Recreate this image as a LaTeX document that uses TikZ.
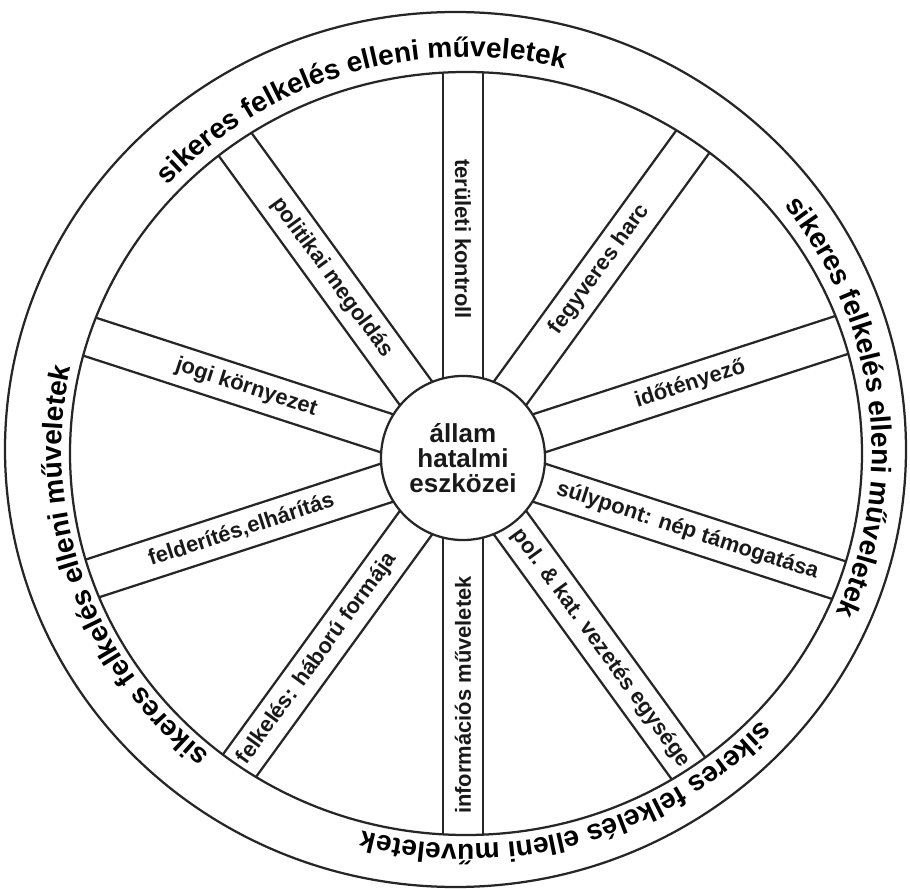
\documentclass[tikz,border=0pt]{standalone}
\usepackage{fontspec}
\setmainfont{Liberation Sans}
\usetikzlibrary{decorations.text}
\begin{document}
\begin{tikzpicture}
		[x = 0.025cm, y = 0.025cm, line width = 1.6pt, draw = black!85,
		rim/.style = {x radius=396, y radius=381.5},
		spoke/.style = {font=\fontsize{15.6}{17}\selectfont\bfseries, text=black!90, inner sep=0pt},
		rimtext/.style = {decorate, decoration={text along path, text align=center,
			text={|\fontsize{20}{22}\selectfont\bfseries|sikeres felkelés elleni műveletek}}}]
		\useasboundingbox (-463,-431) rectangle (447,458);
		\coordinate (c) at (0,0);
		\coordinate (r) at (3,4.5);
		\coordinate (k) at (-7.5,8.5);
		\coordinate (b) at (4,7.5);

		\draw (k) ellipse [x radius=450.5, y radius=437.5];
		\draw (r) ellipse [rim];
		\begin{scope}
			\clip (r) ellipse [rim];
			\draw[rotate=90] (0,20) -- (450,20) (0,-20) -- (450,-20);
			\draw[rotate=54] (0,20) -- (450,20) (0,-20) -- (450,-20);
			\draw[rotate=18] (0,20) -- (450,20) (0,-20) -- (450,-20);
			\draw[rotate=-18] (0,20) -- (450,20) (0,-20) -- (450,-20);
			\draw[rotate=-54] (0,20) -- (450,20) (0,-20) -- (450,-20);
			\draw[rotate=-90] (0,20) -- (450,20) (0,-20) -- (450,-20);
			\draw[rotate=-126] (0,20) -- (450,20) (0,-20) -- (450,-20);
			\draw[rotate=-162] (0,20) -- (450,20) (0,-20) -- (450,-20);
			\draw[rotate=162] (0,20) -- (450,20) (0,-20) -- (450,-20);
			\draw[rotate=126] (0,20) -- (450,20) (0,-20) -- (450,-20);
		\end{scope}

		\path
		(c) node[draw, circle, fill=white, minimum size=4.1cm, inner sep=0pt, align=center,
			font=\fontsize{18.5}{17.6}\selectfont\bfseries, text=black!90] (allam) {állam\\hatalmi\\eszközei}
		(90:219) node[spoke, rotate=-90] (terulet) {területi kontroll}
		(54:233) node[spoke, rotate=54] (harc) {fegyveres harc}
		(18:239) node[spoke, rotate=18] (ido) {időtényező}
		(-18:236) node[spoke, rotate=-18] (sulypont) {súlypont: nép támogatása}
		(-54:235) node[spoke, rotate=-54] (vezetes) {pol. \& kat. vezetés egysége}
		(-90:237) node[spoke, rotate=90] (info) {információs műveletek}
		(-126:248) node[spoke, rotate=54] (haboru) {felkelés: háború formája}
		(-162:233) node[spoke, rotate=18] (felderites) {felderítés,elhárítás}
		(162:228) node[spoke, rotate=-18] (jogi) {jogi környezet}
		(126:223) node[spoke, rotate=-54] (politikai) {politikai megoldás};

		\path[rimtext] ([shift={(152:405 and 393.5)}]b) arc [start angle=152, end angle=62, x radius=405, y radius=393.5];
		\path[rimtext] ([shift={(52:405 and 393.5)}]b) arc [start angle=52, end angle=-38, x radius=405, y radius=393.5];
		\path[rimtext] ([shift={(-29:405 and 393.5)}]b) arc [start angle=-29, end angle=-119, x radius=405, y radius=393.5];
		\path[rimtext] ([shift={(-116:405 and 393.5)}]b) arc [start angle=-116, end angle=-206, x radius=405, y radius=393.5];
	\end{tikzpicture}
\end{document}
